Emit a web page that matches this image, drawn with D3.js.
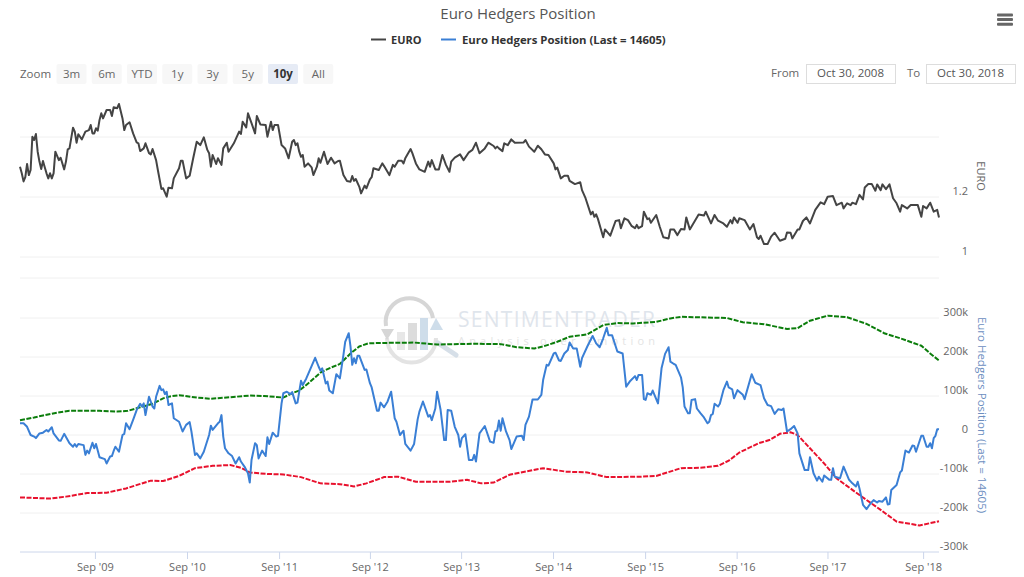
<!DOCTYPE html>
<html>
<head lang="en">
<meta charset="utf-8">
<title>Euro Hedgers Position</title>
<script src="https://cdn.jsdelivr.net/npm/d3@7"></script>
<style>
  html, body { margin: 0; padding: 0; background: #fff; }
  svg { display: block; font-family: "Open Sans", sans-serif; }
  .domain { display: none; }
</style>
</head>
<body>
<svg id="chart" width="1024" height="577"></svg>

<script>
// each pair is [week number since Oct 30 2008, value]
const euroPrice = [[0,1.301],[1,1.279],[2,1.252],[3,1.266],[4,1.310],[5,1.273],[6,1.290],[7,1.401],[8,1.390],[9,1.410],[10,1.351],[11,1.318],[12,1.293],[13,1.320],[14,1.299],[15,1.279],[16,1.262],[17,1.279],[18,1.262],[19,1.279],[20,1.351],[22,1.323],[23,1.331],[25,1.292],[26,1.318],[27,1.359],[28,1.362],[30,1.431],[31,1.418],[32,1.381],[33,1.409],[35,1.392],[37,1.418],[39,1.423],[40,1.440],[41,1.412],[42,1.412],[43,1.429],[44,1.421],[45,1.457],[46,1.479],[47,1.462],[49,1.490],[51,1.490],[52,1.470],[53,1.499],[55,1.496],[56,1.510],[58,1.462],[59,1.423],[60,1.440],[62,1.449],[64,1.412],[66,1.382],[67,1.379],[68,1.353],[70,1.362],[71,1.379],[73,1.346],[74,1.342],[75,1.360],[77,1.323],[78,1.290],[80,1.227],[81,1.229],[83,1.201],[84,1.231],[86,1.229],[87,1.262],[90,1.296],[91,1.321],[92,1.321],[94,1.262],[96,1.271],[98,1.329],[100,1.384],[102,1.373],[104,1.399],[106,1.357],[107,1.346],[108,1.301],[109,1.340],[111,1.310],[112,1.329],[114,1.307],[115,1.362],[117,1.381],[118,1.351],[121,1.379],[124,1.418],[125,1.410],[126,1.451],[128,1.432],[129,1.479],[131,1.446],[133,1.412],[134,1.470],[136,1.442],[139,1.440],[140,1.401],[142,1.451],[143,1.423],[144,1.440],[146,1.440],[148,1.373],[150,1.362],[152,1.329],[154,1.384],[155,1.390],[156,1.373],[157,1.379],[158,1.351],[159,1.334],[160,1.340],[161,1.301],[163,1.312],[165,1.299],[166,1.273],[168,1.301],[169,1.329],[170,1.314],[172,1.351],[174,1.310],[176,1.331],[178,1.312],[180,1.320],
  [181,1.321],[183,1.273],[185,1.253],[187,1.251],[188,1.270],[189,1.254],[190,1.260],[192,1.234],[193,1.212],[195,1.238],[196,1.229],[198,1.259],[199,1.266],[200,1.296],[203,1.290],[205,1.312],[206,1.303],[209,1.273],[211,1.307],[212,1.301],[214,1.321],[216,1.321],[217,1.312],[218,1.329],[221,1.360],[222,1.346],[224,1.312],[226,1.292],[229,1.284],[231,1.318],[232,1.301],[233,1.323],[235,1.292],[237,1.292],[239,1.340],[241,1.307],[243,1.284],[244,1.318],[246,1.331],[249,1.342],[251,1.323],[254,1.349],[256,1.357],[258,1.381],[260,1.346],[263,1.362],[265,1.381],[268,1.370],[269,1.362],[270,1.368],[271,1.362],[273,1.353],[274,1.379],[276,1.373],[278,1.392],[280,1.381],[285,1.382],[286,1.390],[288,1.368],[291,1.351],[293,1.371],[295,1.359],[297,1.342],[299,1.340],[302,1.312],[303,1.292],[304,1.298],[306,1.262],[308,1.271],[310,1.271],[311,1.254],[314,1.243],[317,1.249],[318,1.223],[320,1.196],[323,1.142],[324,1.151],[325,1.134],[326,1.142],[327,1.127],[330,1.066],[331,1.092],[334,1.071],[337,1.120],[339,1.123],[340,1.096],[342,1.129],[344,1.123],[346,1.104],[348,1.096],[349,1.107],[350,1.096],[352,1.103],[353,1.151],[355,1.126],[356,1.129],[357,1.114],[360,1.140],[362,1.101],[364,1.066],[367,1.062],[368,1.092],[370,1.092],[372,1.073],[374,1.093],
  [376,1.092],[377,1.132],[379,1.092],[384,1.142],[387,1.138],[388,1.151],[391,1.112],[393,1.140],[395,1.121],[398,1.112],[400,1.101],[402,1.123],[403,1.112],[404,1.132],[406,1.114],[407,1.129],[410,1.123],[413,1.092],[415,1.110],[417,1.066],[418,1.060],[419,1.071],[421,1.043],[423,1.043],[425,1.068],[427,1.081],[430,1.054],[433,1.061],[434,1.082],[436,1.081],[437,1.062],[440,1.092],[441,1.092],[443,1.120],[445,1.132],[447,1.112],[450,1.157],[453,1.182],[455,1.176],[457,1.201],[460,1.203],[462,1.173],[465,1.181],[466,1.162],[468,1.179],[470,1.173],[471,1.181],[473,1.176],[475,1.207],[477,1.192],[478,1.232],[480,1.243],[482,1.243],[484,1.221],[485,1.242],[487,1.223],[488,1.242],[490,1.226],[492,1.242],[494,1.196],[496,1.179],[498,1.151],[499,1.173],[502,1.162],[504,1.173],[508,1.173],[510,1.134],[511,1.170],[513,1.162],[515,1.181],[517,1.151],[519,1.157],[520,1.132]];

// thousands of contracts
const hedgersPosition = [[0,30],[2,30],[4,21],[6,0],[8,-4],[9,-8],[11,4],[13,6],[15,13],[16,9],[18,20],[19,4],[22,-14],[23,-15],[25,3],[28,-21],[30,-30],[31,-23],[32,-30],[33,-23],[36,-26],[37,-51],[38,-40],[39,-47],[41,-20],[42,-34],[43,-23],[45,-57],[48,-62],[49,-73],[51,-55],[52,-54],[53,-41],[54,-30],[56,-43],[58,0],[59,3],[60,30],[62,15],[64,39],[66,64],[68,80],[69,73],[70,81],[71,51],[73,98],[75,73],[76,68],[77,98],[79,126],[80,115],[81,117],[82,105],[83,111],[84,77],[86,81],[87,43],[90,34],[92,9],[94,26],[96,33],[97,9],[99,-51],[100,-47],[102,-60],[104,-43],[107,0],[108,24],[109,13],[112,30],[113,34],[114,51],[115,-4],[116,-34],[118,-47],[120,-54],[122,-73],[124,-57],[125,-68],[127,-81],[129,-98],[130,-122],[131,-64],[133,-21],[134,-26],[135,-60],[137,-40],[139,-54],[140,-6],[141,-23],[143,6],[145,-4],[146,-2],[148,81],[149,107],[151,111],[153,105],[154,110],[156,81],[157,83],[159,139],[160,128],[162,145],[167,198],[169,175],[170,165],[171,171],[173,132],[174,137],[175,114],[177,107],[179,156],[181,145],
  [183,205],[184,239],[186,261],[187,227],[188,180],[189,197],[190,184],[191,203],[192,203],[195,167],[196,168],[198,133],[199,122],[202,62],[203,62],[204,83],[206,71],[208,86],[210,111],[212,43],[213,34],[215,0],[217,11],[218,-23],[221,-40],[223,-23],[225,40],[226,60],[228,86],[231,47],[232,51],[233,38],[235,68],[236,111],[238,64],[240,-13],[241,-13],[242,64],[244,62],[246,21],[248,0],[249,-30],[250,-8],[252,2],[254,-64],[256,-64],[257,-51],[258,-68],[260,4],[263,23],[266,-17],[268,-20],[269,9],[270,11],[271,37],[272,11],[273,43],[275,9],[277,-13],[278,-36],[281,-4],[284,-2],[285,-13],[286,26],[288,47],[290,91],[293,91],[295,103],[296,141],[298,180],[299,178],[302,209],[303,211],[305,191],[306,190],[308,209],[310,218],[311,237],[313,222],[315,222],[317,175],[318,197],[321,227],[324,254],[326,235],[328,225],[330,248],[332,275],[333,256],[335,256],[338,214],[341,209],[343,124],[345,137],[348,151],[349,141],[350,154],[352,154],[353,92],[354,90],[355,107],[357,103],[358,114],[359,103],[361,81],[363,171],[365,208],[367,225],[368,188],[370,182],[371,180],[374,148],
  [375,122],[376,73],[378,56],[379,56],[380,90],[382,92],[383,68],[385,56],[387,45],[389,30],[390,34],[391,51],[392,54],[393,80],[395,73],[396,80],[398,115],[400,137],[401,122],[403,117],[404,94],[406,115],[409,103],[410,92],[414,156],[416,134],[419,128],[421,94],[423,77],[425,74],[427,54],[429,66],[431,64],[432,68],[434,9],[436,15],[438,23],[440,4],[441,-47],[444,-90],[446,-90],[447,-57],[449,-98],[451,-117],[452,-107],[454,-120],[455,-104],[458,-115],[459,-115],[460,-85],[461,-107],[464,-111],[466,-81],[469,-114],[471,-124],[473,-132],[474,-120],[475,-137],[477,-179],[479,-190],[481,-177],[483,-167],[485,-173],[486,-169],[488,-171],[490,-160],[491,-178],[492,-177],[493,-141],[496,-128],[498,-96],[499,-91],[501,-40],[503,-45],[505,-27],[506,-28],[507,-43],[510,-2],[511,-2],[513,-30],[514,-30],[515,-21],[516,-34],[517,-8],[518,-2],[519,15],[520,14.605]];

const upperBand = [[0,38],[8,45],[13,50],[21,57],[28,62],[45,62],[55,60],[61,62],[68,71],[75,80],[81,94],[85,99],[90,102],[100,96],[108,93],[119,97],[130,101],[138,100],[149,96],[155,109],[158,114],[163,132],[170,160],[175,171],[181,182],[187,209],[192,227],[197,235],[204,236],[223,237],[236,232],[257,234],[272,233],[281,225],[291,222],[296,227],[304,239],[311,252],[321,258],[330,282],[338,287],[347,286],[360,290],[368,299],[374,303],[400,300],[409,289],[421,284],[434,272],[440,274],[447,293],[457,306],[468,302],[479,285],[489,261],[498,248],[510,229],[515,209],[520,191]];

const lowerBand = [[0,-160],[17,-163],[26,-158],[38,-149],[49,-148],[60,-137],[74,-117],[81,-118],[90,-105],[99,-85],[109,-79],[119,-77],[125,-84],[130,-96],[140,-100],[149,-101],[159,-108],[170,-124],[181,-126],[189,-132],[196,-124],[206,-108],[214,-107],[224,-120],[243,-120],[253,-115],[261,-124],[268,-122],[277,-102],[296,-85],[309,-94],[321,-96],[332,-108],[351,-107],[360,-105],[374,-85],[385,-84],[395,-79],[401,-66],[407,-45],[418,-21],[424,-13],[430,3],[436,7],[440,0],[447,-34],[455,-73],[462,-111],[475,-154],[487,-192],[496,-222],[509,-232],[520,-221]];

const tickWeeks = [42.4,94.5,146.6,198,249.6,301.6,353.7,405.5,456.9,511];
const tickLabels = ["Sep '09","Sep '10","Sep '11","Sep '12","Sep '13","Sep '14","Sep '15","Sep '16","Sep '17","Sep '18"];
const euroGrid = [1,1.2,1.4];
const euroLabels = [1,1.2];
const hedgersTicks = [-300,-200,-100,0,100,200,300];
const zoomButtons = ["3m","6m","YTD","1y","3y","5y","10y","All"];

const svg = d3.select("#chart");
const left = 20, right = 939;
const x = d3.scaleLinear().domain([0,520]).range([left,right]);
const yEuro = d3.scaleLinear().domain([1,1.4]).range([257,137]);
const yHedge = d3.scaleLinear().domain([-300,300]).range([552,318]);

// title + legend
svg.append("text").attr("x",518).attr("y",19).attr("text-anchor","middle")
   .attr("font-size",15).attr("fill","#555").text("Euro Hedgers Position");
const legend = svg.append("g").attr("font-weight",700).attr("fill","#333");
legend.append("line").attr("x1",371).attr("x2",386).attr("y1",39.5).attr("y2",39.5).attr("stroke","#444").attr("stroke-width",2);
legend.append("text").attr("x",391).attr("y",44).attr("font-size",11).text("EURO");
legend.append("line").attr("x1",441).attr("x2",456).attr("y1",39.5).attr("y2",39.5).attr("stroke","#3a7fd5").attr("stroke-width",2);
legend.append("text").attr("x",462).attr("y",44).attr("font-size",11.35).text("Euro Hedgers Position (Last = 14605)");

// menu icon
[0,1,2].forEach(i => {
  svg.append("rect").attr("x",997).attr("y",13.5+i*4.6).attr("width",16).attr("height",3)
     .attr("rx",1).attr("fill","#666");
});

// range selector
svg.append("text").attr("x",20).attr("y",78).attr("font-size",11.5).attr("fill","#666").text("Zoom");
const btn = svg.selectAll(".btn").data(zoomButtons).join("g").attr("class","btn")
   .attr("transform",(d,i) => `translate(${56.5+i*35.25},64)`);
btn.append("rect").attr("width",30).attr("height",20).attr("rx",2)
   .attr("fill",d => d == "10y" ? "#e6ebf5" : "#f7f7f7");
btn.append("text").attr("x",15).attr("y",14).attr("text-anchor","middle").attr("font-size",11.5)
   .attr("font-weight",d => d == "10y" ? 700 : 400)
   .attr("fill",d => d == "10y" ? "#333" : "#666").text(d => d);

svg.append("text").attr("x",771).attr("y",77).attr("font-size",11.5).attr("fill","#666").text("From");
svg.append("text").attr("x",907).attr("y",77).attr("font-size",11.5).attr("fill","#666").text("To");
[[806,"Oct 30, 2008"],[926,"Oct 30, 2018"]].forEach(b => {
  svg.append("rect").attr("x",b[0]+0.5).attr("y",64.5).attr("width",89).attr("height",19)
     .attr("fill","#fff").attr("stroke","#ddd");
  svg.append("text").attr("x",b[0]+44.5).attr("y",77).attr("text-anchor","middle")
     .attr("font-size",11.5).attr("fill","#555").text(b[1]);
});

// grid
const gridColor = "#f0f0f0";
svg.append("g").selectAll("line").data(euroGrid.concat(0.93)).join("line")
   .attr("x1",left).attr("x2",right).attr("y1",d => yEuro(d)).attr("y2",d => yEuro(d))
   .attr("stroke",gridColor);
svg.append("g").selectAll("line").data(hedgersTicks.slice(1)).join("line")
   .attr("x1",left).attr("x2",right).attr("y1",d => yHedge(d)).attr("y2",d => yHedge(d))
   .attr("stroke",gridColor);

// watermark
const wm = svg.append("g").attr("opacity",0.8);
wm.append("path").attr("d","M386 326 A23 23 0 0 1 433 318").attr("fill","none").attr("stroke","#ccc").attr("stroke-width",4);
wm.append("path").attr("d","M387 338 A23 23 0 0 0 436 338").attr("fill","none").attr("stroke","#ddd").attr("stroke-width",4);
wm.append("path").attr("d","M381 329 L394 329 L387 340 Z").attr("fill","#ccc");
wm.append("path").attr("d","M430 330 L443 330 L436 318 Z").attr("fill","#c3d5e6");
wm.append("rect").attr("x",397).attr("y",332).attr("width",8).attr("height",18).attr("fill","#e2e2e2");
wm.append("rect").attr("x",408).attr("y",323).attr("width",9).attr("height",27).attr("fill","#d4d4d4");
wm.append("rect").attr("x",420).attr("y",318).attr("width",8).attr("height",32).attr("fill","#c3d5e6");
wm.append("line").attr("x1",438).attr("y1",343).attr("x2",456).attr("y2",355).attr("stroke","#ccd8e3").attr("stroke-width",5).attr("stroke-linecap","round");
svg.append("text").attr("x",458).attr("y",327).attr("font-size",21).attr("fill","#dfe5ec")
   .attr("textLength",197).text("SENTIMENTRADER");
svg.append("text").attr("x",458).attr("y",345).attr("font-size",11).attr("fill","#e4e4e4")
   .attr("textLength",197).text("Analysis over Emotion");

// lines
const euroLine = d3.line().x(d => x(d[0])).y(d => yEuro(d[1]));
const hedgeLine = d3.line().x(d => x(d[0])).y(d => yHedge(d[1]));
svg.append("path").attr("d",euroLine(euroPrice)).attr("fill","none")
   .attr("stroke","#444").attr("stroke-width",2).attr("stroke-linejoin","round");
svg.append("path").attr("d",hedgeLine(upperBand)).attr("fill","none")
   .attr("stroke","#0b7d0b").attr("stroke-width",2).attr("stroke-dasharray","5,1.5");
svg.append("path").attr("d",hedgeLine(lowerBand)).attr("fill","none")
   .attr("stroke","#e8112d").attr("stroke-width",2).attr("stroke-dasharray","5,1.5");
svg.append("path").attr("d",hedgeLine(hedgersPosition)).attr("fill","none")
   .attr("stroke","#3a7fd5").attr("stroke-width",2).attr("stroke-linejoin","round");

// x axis
svg.append("line").attr("x1",left).attr("x2",right).attr("y1",552).attr("y2",552).attr("stroke","#ccd6eb");
const xAxis = d3.axisBottom(x).tickValues(tickWeeks).tickSize(7).tickPadding(4)
   .tickFormat((d,i) => tickLabels[i]);
const xg = svg.append("g").attr("transform","translate(0,552)").call(xAxis);
xg.selectAll("line").attr("stroke","#ccd6eb");
xg.selectAll("text").attr("font-size",11).attr("fill","#666").attr("font-family","Open Sans");

// y labels, sit just above their grid line
const euroAxis = d3.axisLeft(yEuro).tickValues(euroLabels).tickSize(0).tickPadding(0)
   .tickFormat(d => d);
const eg = svg.append("g").attr("transform","translate(968,-6)").call(euroAxis);
eg.selectAll("text").attr("font-size",11).attr("fill","#666").attr("font-family","Open Sans");

const hedgeAxis = d3.axisLeft(yHedge).tickValues(hedgersTicks).tickSize(0).tickPadding(0)
   .tickFormat(d => d == 0 ? "0" : d + "k");
const hg = svg.append("g").attr("transform","translate(968,-6)").call(hedgeAxis);
hg.selectAll("text").attr("font-size",11).attr("fill","#666").attr("font-family","Open Sans");

// axis titles
svg.append("text").attr("transform","translate(977,176) rotate(90)").attr("text-anchor","middle")
   .attr("font-size",11).attr("fill","#666").text("EURO");
svg.append("text").attr("transform","translate(978,415) rotate(90)").attr("text-anchor","middle")
   .attr("font-size",11.5).attr("fill","#6c8ebf").text("Euro Hedgers Position (Last = 14605)");
</script>
</body>
</html>
